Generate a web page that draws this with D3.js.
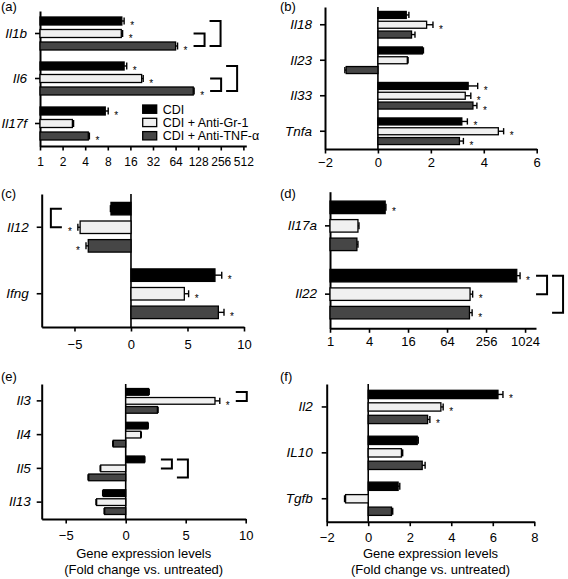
<!DOCTYPE html>
<html><head><meta charset="utf-8">
<script src="https://cdn.jsdelivr.net/npm/d3@7"></script>
<style>
body{margin:0;background:#fff}
svg{display:block}
text{font-family:"Liberation Sans",Arial,Helvetica,sans-serif}
</style>
</head><body><svg id="chart" width="568" height="579"></svg>
<script>
// ---------- DATA ----------
const seriesNames = ["CDI", "CDI + Anti-Gr-1", "CDI + Anti-TNF-\u03b1"];

const genesA = ["Il1b", "Il6", "Il17f"];
const valuesA = [[12.3, 12.1, 64], [13.2, 22.6, 110], [7.4, 2.7, 4.4]];
const errorsA = [[0.9, 0.5, 4], [1.1, 1.1, 3], [0.7, 0.1, 0.15]];
const starsA = [[1, 1, 1], [1, 1, 1], [1, 0, 1]];
const ticksA = [1, 2, 4, 8, 16, 32, 64, 128, 256, 512];
const bracketsA = [["Il1b", 1, 2, 0], ["Il1b", 0, 2, 1], ["Il6", 1, 2, 0], ["Il6", 0, 2, 1]];

const genesB = ["Il18", "Il23", "Il33", "Tnfa"];
const valuesB = [[1.07, 1.84, 1.27], [1.68, 1.11, -1.2], [3.41, 3.3, 3.59], [3.17, 4.55, 3.08]];
const errorsB = [[0.1, 0.24, 0.13], [0.04, 0.03, 0.05], [0.36, 0.21, 0.15], [0.21, 0.2, 0.15]];
const starsB = [[0, 1, 0], [0, 0, 0], [1, 1, 1], [1, 1, 1]];
const ticksB = [-2, 0, 2, 4, 6];
const bracketsB = [];

const genesC = ["Il12", "Ifng"];
const valuesC = [[-1.77, -4.5, -3.78], [7.43, 4.72, 7.73]];
const errorsC = [[0.05, 0.2, 0.2], [0.6, 0.38, 0.5]];
const starsC = [[0, 1, 1], [1, 1, 1]];
const ticksC = [-5, 0, 5, 10];
const bracketsC = [["Il12", 0, 1, 0]];

const genesD = ["Il17a", "Il22"];
const valuesD = [[7.1, 2.7, 2.6], [762, 145, 142]];
const errorsD = [[0.2, 0.1, 0.1], [95, 14, 14]];
const starsD = [[1, 0, 0], [1, 1, 1]];
const ticksD = [1, 4, 16, 64, 256, 1024];
const bracketsD = [["Il22", 0, 1, 0], ["Il22", 0, 2, 1]];

const genesE = ["Il3", "Il4", "Il5", "Il13"];
const valuesE = [[1.9, 7.44, 2.64], [1.83, 1.25, -1.03], [1.55, -2.08, -3.08], [-1.87, -2.42, -1.75]];
const errorsE = [[0.06, 0.4, 0.06], [0.05, 0.05, 0.05], [0.05, 0.05, 0.06], [0.05, 0.06, 0.05]];
const starsE = [[0, 1, 0], [0, 0, 0], [0, 0, 0], [0, 0, 0]];
const ticksE = [-5, 0, 5, 10];
const bracketsE = [["Il3", 0, 1, 0], ["Il5", 0, 1, 0], ["Il5", 0, 2, 1]];

const genesF = ["Il2", "IL10", "Tgfb"];
const valuesF = [[6.25, 3.5, 2.86], [2.36, 1.6, 2.6], [1.44, -1.09, 1.12]];
const errorsF = [[0.24, 0.11, 0.11], [0.05, 0.06, 0.14], [0.08, 0.05, 0.06]];
const starsF = [[1, 1, 1], [0, 0, 0], [0, 0, 0]];
const ticksF = [-2, 0, 2, 4, 6, 8];
const bracketsF = [];

const axisTitle = ["Gene expression levels", "(Fold change vs. untreated)"];

// ---------- STYLE / LAYOUT ----------
const fills = ["#000000", "#f0f0f0", "#464646"];
const svg = d3.select("#chart");

const panels = [
  {lab: "(a)", lx: 1, ly: 11, genes: genesA, vals: valuesA, errs: errorsA, stars: starsA, ticks: ticksA, br: bracketsA,
   log: true, dom: [1, 560], xr: [40, 246.3], yr: [11, 146], bh: 8, pitch: 12.5, tpad: 7, gpad: 8, tfs: 12},
  {lab: "(b)", lx: 280, ly: 11, genes: genesB, vals: valuesB, errs: errorsB, stars: starsB, ticks: ticksB, br: bracketsB,
   log: false, dom: [-2, 6], xr: [325, 536.7], yr: [7, 149], bh: 7, pitch: 9.8, tpad: 4.5, gpad: 8, tfs: 13},
  {lab: "(c)", lx: 1, ly: 198, genes: genesC, vals: valuesC, errs: errorsC, stars: starsC, ticks: ticksC, br: bracketsC,
   log: false, dom: [-7.9, 10], xr: [41.7, 244], yr: [194, 327], bh: 12.5, pitch: 18.6, tpad: 8, gpad: 8, tfs: 13},
  {lab: "(d)", lx: 280, ly: 198, genes: genesD, vals: valuesD, errs: errorsD, stars: starsD, ticks: ticksD, br: bracketsD,
   log: true, dom: [1, 1510], xr: [330, 536], yr: [191.7, 328.3], bh: 12.5, pitch: 18.5, tpad: 4, gpad: 8, tfs: 13},
  {lab: "(e)", lx: 1, ly: 381, genes: genesE, vals: valuesE, errs: errorsE, stars: starsE, ticks: ticksE, br: bracketsE,
   log: false, dom: [-7, 10], xr: [41.7, 245.7], yr: [384, 519], bh: 6.7, pitch: 9, tpad: 7, gpad: 6, tfs: 13,
   titleY: [558, 574]},
  {lab: "(f)", lx: 280, ly: 381, genes: genesF, vals: valuesF, errs: errorsF, stars: starsF, ticks: ticksF, br: bracketsF,
   log: false, dom: [-2, 8], xr: [326.7, 534.3], yr: [384, 521.7], bh: 8.3, pitch: 12.5, tpad: 6.5, gpad: 9, tfs: 13,
   titleY: [558, 574]}
];

const fmtLog = d3.format("d");
const FONT = '"Liberation Sans",Arial,sans-serif';

panels.forEach(p => {
  const g = svg.append("g");
  const x = p.log ? d3.scaleLog().base(2).domain(p.dom).range(p.xr)
                  : d3.scaleLinear().domain(p.dom).range(p.xr);
  const y = d3.scaleBand().domain(p.genes).range(p.yr);
  const base = p.log ? p.dom[0] : 0;
  const cy = (gi, si) => y(p.genes[gi]) + y.bandwidth() / 2 + (si - 1) * p.pitch;

  // panel label
  g.append("text").attr("x", p.lx).attr("y", p.ly).attr("font-size", 13).text(p.lab);

  // x axis
  const xa = d3.axisBottom(x).tickValues(p.ticks).tickSize(4.5).tickSizeOuter(0).tickPadding(p.tpad);
  if (p.log) xa.tickFormat(fmtLog);
  const gx = g.append("g").attr("transform", `translate(0,${p.yr[1]})`).call(xa);
  gx.select(".domain").attr("stroke-width", 2);
  gx.selectAll(".tick line").attr("stroke-width", 1.6);
  gx.selectAll("text").attr("font-size", p.tfs).attr("font-family", FONT);

  // y axis
  const ya = d3.axisLeft(y).tickSize(5).tickSizeOuter(0).tickPadding(p.gpad);
  const gy = g.append("g").attr("transform", `translate(${p.xr[0]},0)`).call(ya);
  gy.select(".domain").attr("stroke-width", 2);
  gy.selectAll(".tick line").attr("stroke-width", 1.6);
  gy.selectAll("text").attr("font-size", 13.5).attr("font-style", "italic").attr("font-family", FONT);

  // zero line
  if (!p.log) {
    g.append("line").attr("x1", x(0)).attr("x2", x(0)).attr("y1", p.yr[0]).attr("y2", p.yr[1])
      .attr("stroke", "#000").attr("stroke-width", 1.6);
  }

  // bars
  const flat = [];
  p.vals.forEach((row, gi) => row.forEach((v, si) => flat.push({gi, si, v, e: p.errs[gi][si], s: p.stars[gi][si]})));
  g.selectAll("rect.bar").data(flat).join("rect").attr("class", "bar")
    .attr("x", d => Math.min(x(base), x(d.v)))
    .attr("width", d => Math.abs(x(d.v) - x(base)))
    .attr("y", d => cy(d.gi, d.si) - p.bh / 2)
    .attr("height", p.bh)
    .attr("fill", d => fills[d.si]).attr("stroke", "#000").attr("stroke-width", 1.3);

  // error bars
  const errEnd = d => d.v >= base ? x(d.v + d.e) : x(d.v - d.e);
  g.selectAll("line.err").data(flat).join("line").attr("class", "err")
    .attr("x1", d => x(d.v)).attr("x2", errEnd)
    .attr("y1", d => cy(d.gi, d.si)).attr("y2", d => cy(d.gi, d.si))
    .attr("stroke", "#000").attr("stroke-width", 1.4);
  g.selectAll("line.cap").data(flat).join("line").attr("class", "cap")
    .attr("x1", errEnd).attr("x2", errEnd)
    .attr("y1", d => cy(d.gi, d.si) - Math.min(3.5, p.bh * 0.45))
    .attr("y2", d => cy(d.gi, d.si) + Math.min(3.5, p.bh * 0.45))
    .attr("stroke", "#000").attr("stroke-width", 1.4);

  // asterisks
  g.selectAll("text.star").data(flat.filter(d => d.s)).join("text").attr("class", "star")
    .attr("x", d => d.v >= base ? errEnd(d) + 8 : errEnd(d) - 8)
    .attr("y", d => cy(d.gi, d.si) + 8)
    .attr("text-anchor", "middle").attr("font-size", 10).attr("fill", "#000").text("*");

  // significance brackets
  p.br.forEach(([gene, a, b, level]) => {
    const gi = p.genes.indexOf(gene);
    const group = flat.filter(d => d.gi === gi);
    const pair = group.filter(d => d.si === a || d.si === b);
    const right = !pair.every(d => d.v < base);
    const arm = 11;
    const y1 = cy(gi, a), y2 = cy(gi, b);
    let path;
    if (right) {
      const vx = d3.max(group, errEnd) + 27 + level * 16;
      path = `M${vx - arm},${y1}H${vx}V${y2}H${vx - arm}`;
    } else {
      const vx = d3.min(group, errEnd) - 27 - level * 16;
      path = `M${vx + arm},${y1}H${vx}V${y2}H${vx + arm}`;
    }
    g.append("path").attr("d", path).attr("fill", "none").attr("stroke", "#000").attr("stroke-width", 2);
  });

  // axis title
  if (p.titleY) {
    const mx = (p.xr[0] + p.xr[1]) / 2;
    axisTitle.forEach((t, i) => {
      g.append("text").attr("x", mx).attr("y", p.titleY[i])
        .attr("text-anchor", "middle").attr("font-size", 13).text(t);
    });
  }
});

// legend (panel a)
const leg = svg.append("g").attr("transform", "translate(142.7,105)");
seriesNames.forEach((n, i) => {
  leg.append("rect").attr("x", 0).attr("y", i * 13.3).attr("width", 14).attr("height", 8.3)
    .attr("fill", fills[i]).attr("stroke", "#000").attr("stroke-width", 1.3);
  leg.append("text").attr("x", 20).attr("y", i * 13.3 + 8.6).attr("font-size", 12.5).text(n);
});
</script>
</body></html>
